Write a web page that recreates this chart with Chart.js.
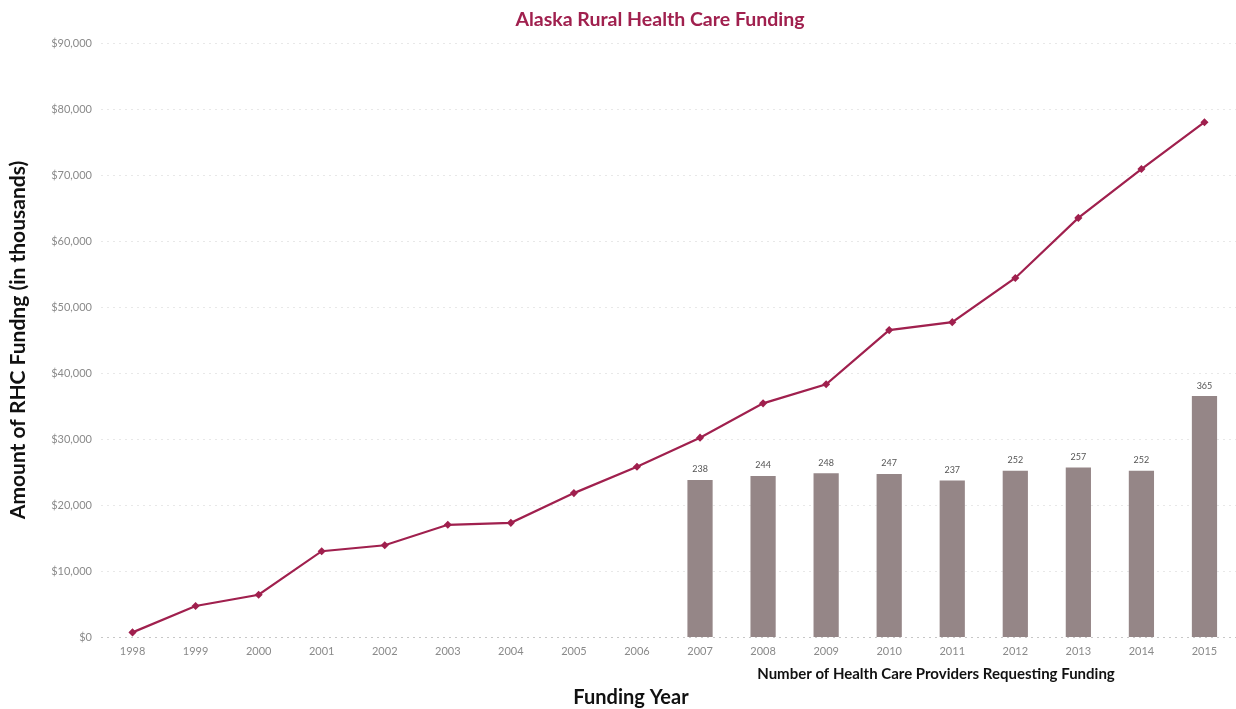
<!DOCTYPE html>
<html>
<head>
<meta charset="utf-8">
<script src="https://cdn.jsdelivr.net/npm/chart.js@4/dist/chart.umd.min.js"></script>
<style>
  html, body { margin: 0; padding: 0; background: #ffffff; overflow: hidden; }
  #wrap { width: 1236px; height: 709px; position: relative; }
  canvas { display: block; }
</style>
</head>
<body>
<div id="wrap"><canvas id="c"></canvas></div>
<script>
const years = ['1998','1999','2000','2001','2002','2003','2004','2005','2006','2007','2008','2009','2010','2011','2012','2013','2014','2015'];
const funding = [700, 4700, 6400, 13000, 13900, 17000, 17300, 21800, 25800, 30200, 35400, 38300, 46500, 47700, 54400, 63500, 70900, 78000];
const providers = [null, null, null, null, null, null, null, null, null, 238, 244, 248, 247, 237, 252, 257, 252, 365];
const titleText = 'Alaska Rural Health Care Funding';
const yTitle = 'Amount of RHC Fundng (in thousands)';
const xTitle = 'Funding Year';
const barTitle = 'Number of Health Care Providers Requesting Funding';

const LINE_COLOR = '#a0204e';
const BAR_COLOR = '#958687';

const textPlugin = {
  id: 'texts',
  afterDraw(chart) {
    const ctx = chart.ctx;
    ctx.save();
    // bar value labels
    const meta = chart.getDatasetMeta(1);
    ctx.font = '9px Lato';
    ctx.fillStyle = '#555555';
    ctx.textAlign = 'center';
    ctx.textBaseline = 'bottom';
    meta.data.forEach((el, i) => {
      const v = providers[i];
      if (v === null || v === undefined) return;
      ctx.fillText(String(v), el.x, el.y - 6);
    });
    // chart title
    ctx.font = 'bold 19.5px Lato';
    ctx.fillStyle = LINE_COLOR;
    ctx.textBaseline = 'middle';
    ctx.fillText(titleText, 660, 20);
    // x title
    ctx.font = 'bold 20px Lato';
    ctx.fillStyle = '#111111';
    ctx.fillText(xTitle, 631, 698);
    // bar subtitle
    ctx.font = 'bold 15px Lato';
    ctx.fillText(barTitle, 936, 674);
    ctx.restore();
  }
};

new Chart(document.getElementById('c'), {
  data: {
    labels: years,
    datasets: [
      {
        type: 'line',
        label: 'Funding',
        data: funding,
        borderColor: LINE_COLOR,
        backgroundColor: LINE_COLOR,
        borderWidth: 2.2,
        pointStyle: 'rectRot',
        pointRadius: 2.5,
        pointHoverRadius: 3,
        tension: 0,
        yAxisID: 'y',
        order: 0
      },
      {
        type: 'bar',
        label: 'Providers',
        data: providers,
        backgroundColor: BAR_COLOR,
        borderWidth: 0,
        barPercentage: 0.4,
        categoryPercentage: 1.0,
        yAxisID: 'y2',
        order: 1
      }
    ]
  },
  options: {
    responsive: true,
    maintainAspectRatio: false,
    animation: false,
    layout: { autoPadding: false, padding: { top: 43, right: 0, left: 6, bottom: 0 } },
    plugins: {
      legend: { display: false },
      title: { display: false },
      tooltip: { enabled: false }
    },
    scales: {
      x: {
        type: 'category',
        grid: { display: false, drawTicks: false },
        border: { display: false },
        ticks: { color: '#8a8a8a', font: { family: 'Lato', size: 11 }, padding: 8, maxRotation: 0 },
        afterFit(scale) { scale.height = 72; scale.paddingRight = 0; scale.paddingLeft = 0; }
      },
      y: {
        position: 'left',
        min: 0,
        max: 90000,
        ticks: {
          stepSize: 10000,
          color: '#8a8a8a',
          font: { family: 'Lato', size: 11 },
          padding: 9,
          callback: (v) => '$' + Number(v).toLocaleString('en-US')
        },
        grid: {
          color: (c) => c.tick && c.tick.value === 0 ? 'rgba(0,0,0,0.22)' : 'rgba(0,0,0,0.09)',
          lineWidth: 1,
          drawTicks: false
        },
        border: { display: false, dash: [2, 4] },
        title: {
          display: true,
          text: yTitle,
          color: '#111111',
          font: { family: 'Lato', size: 21, weight: 'bold' },
          padding: { top: 0, bottom: 0 }
        },
        afterFit(scale) { scale.width = 95; }
      },
      y2: {
        display: false,
        min: 0,
        max: 900
      }
    }
  },
  plugins: [textPlugin]
});
</script>
</body>
</html>
